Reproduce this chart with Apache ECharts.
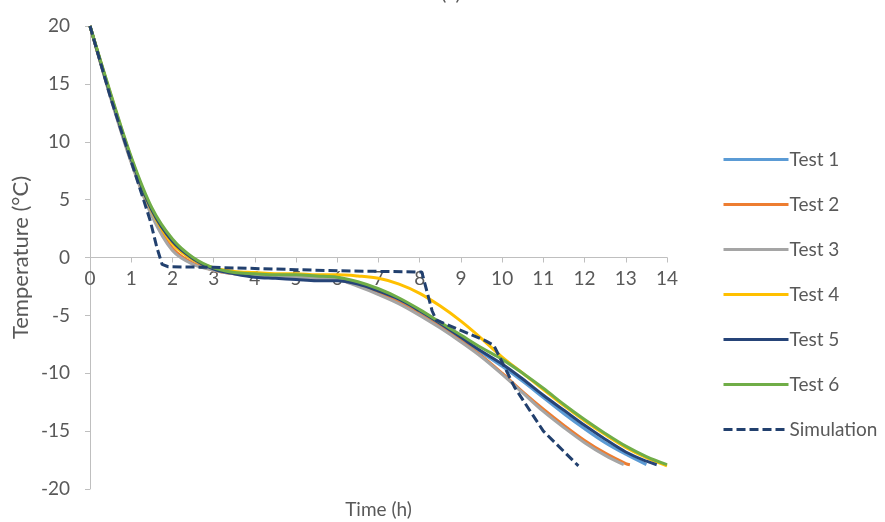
<!DOCTYPE html>
<html>
<head>
<meta charset="utf-8">
<script src="https://cdn.jsdelivr.net/npm/echarts@6/dist/echarts.min.js"></script>
<style>
  html, body { margin: 0; padding: 0; background: #ffffff; }
  #chart { width: 885px; height: 522px; }
</style>
</head>
<body>
<div id="chart"></div>
<script>
// Freezing curves: temperature (°C) against time (h)
const seriesNames = ['Test 1', 'Test 2', 'Test 3', 'Test 4', 'Test 5', 'Test 6', 'Simulation'];
const seriesColors = ['#5B9BD5', '#ED7D31', '#A5A5A5', '#FFC000', '#264478', '#70AD47', '#22406E'];

// Measurement times (h), every half hour
const timeSteps = [0, 0.5, 1, 1.5, 2, 2.5, 3, 3.5, 4, 4.5, 5, 5.5, 6, 6.5, 7, 7.5, 8, 8.5, 9, 9.5, 10, 10.5, 11, 11.5, 12, 12.5, 13, 13.5, 14];

// Measured temperatures per test (°C); each test stops once it reaches about -18 °C
const test1 = [20, 14.0, 8.5, 4.0, 1.3, -0.2, -1.0, -1.3, -1.5, -1.6, -1.7, -1.7, -1.8, -2.2, -2.9, -3.7, -4.7, -5.8, -7.0, -8.2, -9.4, -10.7, -12.1, -13.5, -14.8, -16.0, -17.0, -17.9];
const test2 = [20, 13.9, 8.3, 3.7, 0.8, -0.5, -1.1, -1.4, -1.5, -1.6, -1.7, -1.8, -1.9, -2.4, -3.1, -3.9, -4.9, -6.0, -7.2, -8.5, -10.0, -11.6, -13.1, -14.5, -15.8, -16.9, -17.8];
const test2End = [13.1, -17.9];
const test3 = [20, 13.8, 8.2, 3.6, 0.6, -0.6, -1.1, -1.4, -1.5, -1.6, -1.7, -1.8, -1.9, -2.5, -3.2, -4.0, -5.0, -6.1, -7.3, -8.6, -10.1, -11.7, -13.3, -14.7, -16.0, -17.1];
const test3End = [12.95, -17.9];
const test4 = [20, 14.1, 8.6, 4.0, 1.2, -0.2, -0.9, -1.2, -1.3, -1.4, -1.4, -1.5, -1.5, -1.6, -1.8, -2.3, -3.1, -4.2, -5.5, -7.0, -8.6, -10.0, -11.4, -12.8, -14.1, -15.3, -16.4, -17.3, -18.0];
const test5 = [20, 14.0, 8.5, 4.1, 1.4, -0.1, -1.0, -1.4, -1.7, -1.8, -1.9, -2.0, -2.0, -2.3, -2.9, -3.6, -4.6, -5.7, -6.9, -8.1, -9.2, -10.5, -11.9, -13.2, -14.5, -15.7, -16.8, -17.6];
const test5End = [13.75, -17.9];
const test6 = [20, 14.2, 8.7, 4.3, 1.6, 0.0, -0.9, -1.3, -1.4, -1.5, -1.5, -1.6, -1.7, -2.1, -2.7, -3.5, -4.5, -5.6, -6.7, -7.8, -8.8, -10.0, -11.3, -12.7, -14.0, -15.2, -16.3, -17.2, -17.9];

// Simulated curve: [time (h), temperature (°C)]
const simulation = [
  [0, 20], [0.5, 13.8], [1, 8.3], [1.46, 3.2], [1.62, 0.9], [1.75, -0.6], [1.9, -0.8],
  [3, -0.85], [4, -0.95], [5, -1.05], [6, -1.15], [7, -1.2], [8.05, -1.25],
  [8.3, -4.6], [8.4, -5.4], [9.6, -7.2], [9.8, -7.6], [10.3, -11.2], [11, -15], [11.85, -18]
];

// Axis ranges and tick steps
const timeRange = [0, 14, 1];
const tempRange = [-20, 20, 5];

function pair(values, end) {
  const pts = values.map((v, i) => [timeSteps[i], v]);
  if (end) pts.push(end);
  return pts;
}

const curves = [
  pair(test1), pair(test2, test2End), pair(test3, test3End),
  pair(test4), pair(test5, test5End), pair(test6), simulation
];

const font = 'Lato, "Noto Sans", sans-serif';
const textGray = '#595959';

// Plot area in pixels; the time axis is drawn across the 0 °C level
const plot = { left: 90, right: 218, top: 26, bottom: 33 };
const plotHeight = 522 - plot.top - plot.bottom;
const zeroOffset = plotHeight * (0 - tempRange[0]) / (tempRange[1] - tempRange[0]);

const chart = echarts.init(document.getElementById('chart'), null, { renderer: 'canvas' });

chart.setOption({
  animation: false,
  backgroundColor: '#ffffff',
  title: {
    text: '(a)',
    left: 446,
    top: -21,
    textAlign: 'center',
    textStyle: { fontFamily: font, fontSize: 20, fontWeight: 'normal', color: textGray }
  },
  grid: { left: plot.left, right: plot.right, top: plot.top, bottom: plot.bottom, containLabel: false, outerBoundsMode: 'none' },
  legend: {
    orient: 'vertical',
    left: 717,
    top: 145,
    itemWidth: 65,
    itemHeight: 14,
    itemGap: 26,
    icon: 'inherit',
    itemStyle: { opacity: 0 },
    lineStyle: { width: 3 },
    data: seriesNames,
    textStyle: { fontFamily: font, fontSize: 19, color: textGray, padding: [0, 0, 0, -4] }
  },
  xAxis: {
    type: 'value',
    position: 'bottom',
    offset: -zeroOffset,
    min: timeRange[0],
    max: timeRange[1],
    interval: timeRange[2],
    name: 'Time (h)',
    nameLocation: 'middle',
    nameGap: 243,
    nameMoveOverlap: false,
    nameTextStyle: { fontFamily: font, fontSize: 19, color: textGray },
    axisLine: { onZero: false, lineStyle: { color: '#BFBFBF', width: 1 } },
    axisTick: { show: true, length: 5, lineStyle: { color: '#BFBFBF' } },
    axisLabel: { fontFamily: font, fontSize: 19, color: textGray, margin: 12 },
    splitLine: { show: false }
  },
  yAxis: {
    type: 'value',
    min: tempRange[0],
    max: tempRange[1],
    interval: tempRange[2],
    name: 'Temperature (°C)',
    nameLocation: 'middle',
    nameGap: 58,
    nameMoveOverlap: false,
    nameTextStyle: { fontFamily: font, fontSize: 22, color: textGray },
    axisLine: { show: true, onZero: false, lineStyle: { color: '#BFBFBF', width: 1 } },
    axisTick: { show: true, length: 5, lineStyle: { color: '#BFBFBF' } },
    axisLabel: { fontFamily: font, fontSize: 19, color: textGray, margin: 20 },
    splitLine: { show: false }
  },
  series: seriesNames.map((name, i) => {
    const isSim = name === 'Simulation';
    return {
      name: name,
      type: 'line',
      data: curves[i],
      symbol: 'none',
      showSymbol: false,
      smooth: isSim ? false : 0.35,
      z: isSim ? 10 : 2 + i,
      color: seriesColors[i],
      lineStyle: {
        color: seriesColors[i],
        width: 3,
        type: isSim ? [9, 4] : 'solid',
        cap: 'butt'
      }
    };
  })
});
</script>
</body>
</html>
